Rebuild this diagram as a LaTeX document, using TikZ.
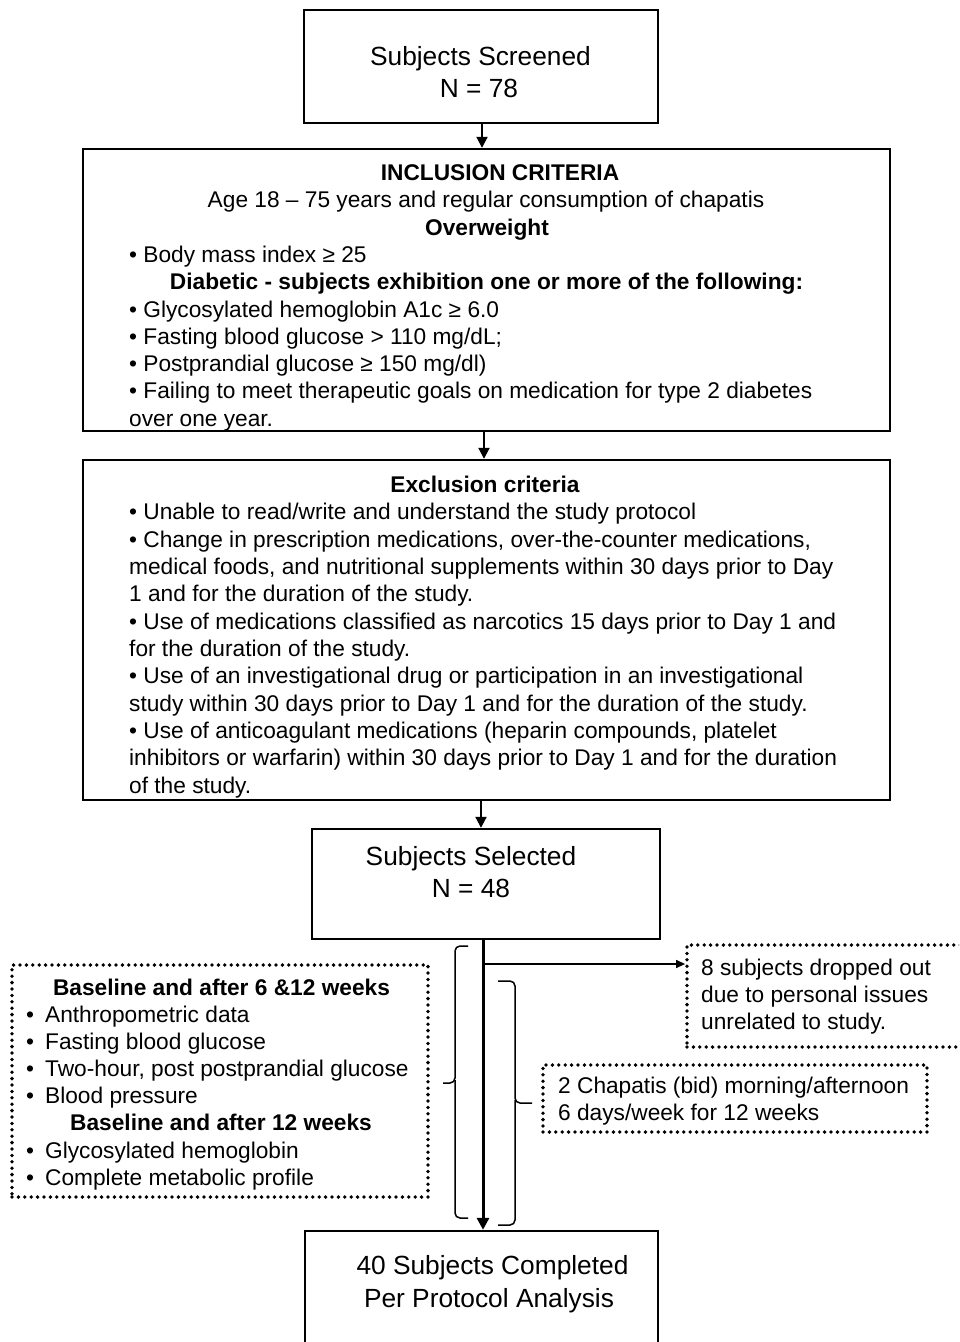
\documentclass[tikz,border=0pt]{standalone}
\usepackage{fontspec}
\setmainfont{Liberation Sans}
\usetikzlibrary{arrows.meta}
\newcommand\myfs{\fontsize{22.7}{27}\selectfont}
\newcommand\myft{\fontsize{26.3}{30}\selectfont}
\tikzset{
 box/.style={draw, line width=2.4pt, fill=white, inner sep=0pt},
 dbox/.style={draw, line width=3.8pt, dash pattern=on 0pt off 6.4pt, line cap=round, inner sep=0pt},
 txt/.style={inner sep=0pt, anchor=base west, font=\myfs},
 ctxt/.style={inner sep=0pt, anchor=base, font=\myfs},
 btxt/.style={inner sep=0pt, anchor=base, font=\myfs\bfseries},
 ttl/.style={inner sep=0pt, anchor=base, font=\myft},
 arr/.style={line width=2pt, -{Triangle[length=11pt,width=11pt]}},
 mainarr/.style={line width=3pt, -{Triangle[length=12pt,width=12pt]}},
 tharr/.style={line width=1.3pt, -{Triangle[length=9pt,width=8pt]}},
 brc/.style={line width=1.5pt, rounded corners=5pt},
}
\newcommand\bul{\makebox[19pt][l]{•}}
\begin{document}
\begin{tikzpicture}[x=1pt,y=-1pt]
\useasboundingbox (0,0) rectangle (959,1342);
\fill[white] (0,0) rectangle (959,1342);
\clip (0,0) rectangle (959,1342);

% main boxes
\node[box, minimum width=354pt, minimum height=113pt] (scr) at (481,66.5) {};
\node[box, minimum width=807pt, minimum height=282pt] (inc) at (486.5,290) {};
\node[box, minimum width=807pt, minimum height=340pt] (exc) at (486.5,630) {};
\node[box, minimum width=348pt, minimum height=110pt] (sel) at (486,884) {};
\node[box, minimum width=353pt, minimum height=112pt] (comp) at (481.5,1287) {};

% dotted boxes
\node[dbox, minimum width=300pt, minimum height=102pt] (drop) at (837,996) {};
\node[dbox, minimum width=416pt, minimum height=232pt] (meas) at (220,1081) {};
\node[dbox, minimum width=384pt, minimum height=67pt] (chap) at (735,1098.5) {};

% texts box 1
\node[ttl] (scr1) at (480.5,65) {Subjects Screened};
\node[ttl] (scr2) at (479,97.5) {N = 78};

% inclusion
\node[btxt] (i1) at (500,180.5) {INCLUSION CRITERIA};
\node[ctxt] (i2) at (486,207.8) {Age 18 – 75 years and regular consumption of chapatis};
\node[btxt] (i3) at (487,235.1) {Overweight};
\node[txt] (i4) at (129,262.4) {• Body mass index ≥ 25};
\node[btxt] (i5) at (486.5,289.7) {Diabetic - subjects exhibition one or more of the following:};
\node[txt] (i6) at (129,317) {• Glycosylated hemoglobin A1c ≥ 6.0};
\node[txt] (i7) at (129,344.3) {• Fasting blood glucose > 110 mg/dL;};
\node[txt] (i8) at (129,371.6) {• Postprandial glucose ≥ 150 mg/dl)};
\node[txt] (i9) at (129,398.9) {• Failing to meet therapeutic goals on medication for type 2 diabetes};
\node[txt] (i10) at (129,426.2) {over one year.};

% exclusion
\node[btxt] (e0) at (485,492.3) {Exclusion criteria};
\node[txt] (e1) at (129,519.6) {• Unable to read/write and understand the study protocol};
\node[txt] (e2) at (129,547) {• Change in prescription medications, over-the-counter medications,};
\node[txt] (e3) at (129,574.3) {medical foods, and nutritional supplements within 30 days prior to Day};
\node[txt] (e4) at (129,601.7) {1 and for the duration of the study.};
\node[txt] (e5) at (129,629) {• Use of medications classified as narcotics 15 days prior to Day 1 and};
\node[txt] (e6) at (129,656.4) {for the duration of the study.};
\node[txt] (e7) at (129,683.7) {• Use of an investigational drug or participation in an investigational};
\node[txt] (e8) at (129,711.1) {study within 30 days prior to Day 1 and for the duration of the study.};
\node[txt] (e9) at (129,738.4) {• Use of anticoagulant medications (heparin compounds, platelet};
\node[txt] (e10) at (129,765.8) {inhibitors or warfarin) within 30 days prior to Day 1 and for the duration};
\node[txt] (e11) at (129,793.1) {of the study.};

% selected
\node[ttl] (sel1) at (471,865) {Subjects Selected};
\node[ttl] (sel2) at (471,897) {N = 48};

% completed
\node[ttl] (comp1) at (492.5,1274) {40 Subjects Completed};
\node[ttl] (comp2) at (489,1307) {Per Protocol Analysis};

% dropout
\node[txt] (d1) at (701,975) {8 subjects dropped out};
\node[txt] (d2) at (701,1002) {due to personal issues};
\node[txt] (d3) at (701,1029) {unrelated to study.};

% measurements
\node[btxt] (m1) at (221.5,995.5) {Baseline and after 6 \&12 weeks};
\node[txt] (m2) at (26,1022.5) {\bul Anthropometric data};
\node[txt] (m3) at (26,1049.5) {\bul Fasting blood glucose};
\node[txt] (m4) at (26,1076.5) {\bul Two-hour, post postprandial glucose};
\node[txt] (m5) at (26,1103.5) {\bul Blood pressure};
\node[btxt] (m6) at (221,1130.5) {Baseline and after 12 weeks};
\node[txt] (m7) at (26,1158) {\bul Glycosylated hemoglobin};
\node[txt] (m8) at (26,1185) {\bul Complete metabolic profile};

% chapatis
\node[txt] (c1) at (558,1093.3) {2 Chapatis (bid) morning/afternoon};
\node[txt] (c2) at (558,1120) {6 days/week for 12 weeks};

% connectors
\draw[arr] ([xshift=1pt]scr.south) -- ([xshift=1pt]scr.south |- inc.north);
\draw[arr] ([xshift=-2.5pt]inc.south) -- ([xshift=-2.5pt]inc.south |- exc.north);
\draw[arr] ([xshift=-5.5pt]exc.south) -- ([xshift=-5.5pt]exc.south |- sel.north);
\draw[mainarr] ([xshift=-3pt]sel.south) -- ([xshift=-3pt]sel.south |- comp.north);
\coordinate (dj) at (483,964);
\draw[tharr] (dj) -- (drop.west |- dj);

% braces
\draw[brc] (468,946) -- (455,946) -- (455,1083) -- (443,1083);
\draw[brc] (455,1080) -- (455,1218) -- (468,1218);
\draw[brc] (498,981) -- (515,981) -- (515,1103) -- (532,1103);
\draw[brc] (515,1100) -- (515,1225) -- (498,1225);
\end{tikzpicture}
\end{document}
